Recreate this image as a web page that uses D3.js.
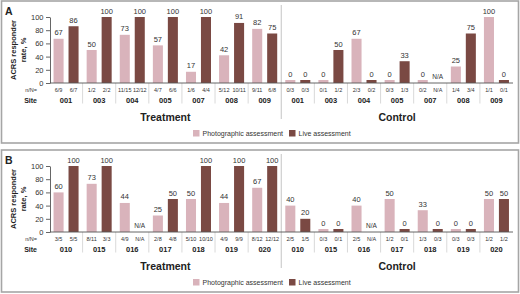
<!DOCTYPE html>
<html>
<head>
<meta charset="utf-8">
<script src="https://cdn.jsdelivr.net/npm/d3@7"></script>
<style>
  body { margin: 0; background: #fff; }
  svg { display: block; font-family: "Liberation Sans", Arial, sans-serif; }
</style>
</head>
<body>
<div id="chart"></div>
<script>
// arms and series
var arms = ["Treatment", "Control"];
var series = ["Photographic assessment", "Live assessment"];
var yTicks = [0, 20, 40, 60, 80, 100];

// panel A  (treatment sites then control sites; null = N/A)
var sitesA = ["001", "003", "004", "005", "007", "008", "009"];
var photoA = [67, 50, 73, 57, 17, 42, 82, 0, 0, 67, 0, 0, 25, 100];
var liveA = [86, 100, 100, 100, 100, 91, 75, 0, 50, 0, 33, null, 75, 0];
var photoNA = ["6/9", "1/2", "11/15", "4/7", "1/6", "5/12", "9/11", "0/3", "0/1", "2/3", "0/3", "0/2", "1/4", "1/1"];
var liveNA = ["6/7", "2/2", "12/12", "6/6", "4/4", "10/11", "6/8", "0/3", "1/2", "0/2", "1/3", "N/A", "3/4", "0/1"];

// panel B
var sitesB = ["010", "015", "016", "017", "018", "019", "020"];
var photoB = [60, 73, 44, 25, 50, 44, 67, 40, 0, 40, 50, 33, 0, 50];
var liveB = [100, 100, null, 50, 100, 100, 100, 20, 0, null, 0, 0, 0, 50];
var photoNB = ["3/5", "8/11", "4/9", "2/8", "5/10", "4/9", "8/12", "2/5", "0/3", "2/5", "1/2", "1/3", "0/3", "1/2"];
var liveNB = ["5/5", "3/3", "N/A", "4/8", "10/10", "9/9", "12/12", "1/5", "0/1", "N/A", "0/1", "0/3", "0/3", "1/2"];

var colors = { photo: "#d9b3bb", live: "#7a4943" };

var svg = d3.select("#chart").append("svg")
    .attr("width", 520)
    .attr("height", 294);

function drawPanel(offsetY, letter, sites, photo, live, photoN, liveN) {
    var g = svg.append("g").attr("transform", "translate(0," + offsetY + ")");

    // panel frame
    g.append("rect")
        .attr("x", 1.5).attr("y", 1)
        .attr("width", 517).attr("height", 142)
        .attr("fill", "none")
        .attr("stroke", "#a6a6a6")
        .attr("stroke-width", 1.6);

    g.append("text")
        .attr("x", 5).attr("y", 15)
        .style("font-size", "10.5px").style("font-weight", "bold")
        .attr("fill", "#222")
        .text(letter);

    // one entry per group
    var groups = [];
    arms.forEach(function(arm, a) {
        sites.forEach(function(s, i) {
            var k = a * sites.length + i;
            groups.push({ key: arm + "-" + s, arm: arm, site: s,
                photo: photo[k], live: live[k], photoN: photoN[k], liveN: liveN[k] });
        });
    });

    var x = d3.scaleBand()
        .domain(groups.map(function(d) { return d.key; }))
        .range([49.5, 513]);

    var xs = d3.scaleBand()
        .domain(["photo", "live"])
        .range([0, x.bandwidth()])
        .paddingInner(0.33)
        .paddingOuter(0.27);

    var y = d3.scaleLinear()
        .domain([0, 100])
        .range([83, 17]);

    // separators between sites
    g.selectAll(".sep")
        .data(groups.slice(1).filter(function(d, i) { return i !== sites.length - 1; }))
        .enter().append("line")
        .attr("class", "sep")
        .attr("x1", function(d) { return x(d.key); })
        .attr("x2", function(d) { return x(d.key); })
        .attr("y1", 83).attr("y2", 103.5)
        .attr("stroke", "#cfcfcf").attr("stroke-width", 0.8);

    // treatment / control divider
    var divX = x(groups[sites.length].key);
    g.append("line")
        .attr("x1", divX).attr("x2", divX)
        .attr("y1", 5).attr("y2", 119)
        .attr("stroke", "#bdbdbd").attr("stroke-width", 0.9);

    // bars
    var barData = [];
    groups.forEach(function(d) {
        barData.push({ g: d, s: "photo", v: d.photo, n: d.photoN });
        barData.push({ g: d, s: "live", v: d.live, n: d.liveN });
    });

    g.selectAll(".bar")
        .data(barData.filter(function(d) { return d.v !== null; }))
        .enter().append("rect")
        .attr("class", "bar")
        .attr("x", function(d) { return x(d.g.key) + xs(d.s); })
        .attr("width", xs.bandwidth())
        .attr("y", function(d) { return Math.min(y(d.v), y(0) - 3); })
        .attr("height", function(d) { return Math.max(y(0) - y(d.v), 3); })
        .attr("fill", function(d) { return colors[d.s]; });

    // value labels
    g.selectAll(".val")
        .data(barData)
        .enter().append("text")
        .attr("class", "val")
        .attr("x", function(d) { return x(d.g.key) + xs(d.s) + xs.bandwidth() / 2; })
        .attr("y", function(d) {
            if (d.v === null) return y(0) - 4;
            return Math.min(y(d.v), y(0) - 3) - 3.5;
        })
        .attr("text-anchor", "middle")
        .style("font-size", function(d) { return d.v === null ? "6.5px" : "7.5px"; })
        .attr("fill", "#333")
        .text(function(d) { return d.v === null ? "N/A" : d.v; });

    // baseline
    g.append("line")
        .attr("x1", 50).attr("x2", 513)
        .attr("y1", 83).attr("y2", 83)
        .attr("stroke", "#555").attr("stroke-width", 0.9);

    // y axis
    var yAxis = d3.axisLeft(y)
        .tickValues(yTicks)
        .tickSize(4)
        .tickSizeOuter(0)
        .tickPadding(2.5);

    var ya = g.append("g")
        .attr("transform", "translate(50,0)")
        .call(yAxis);
    ya.select(".domain").attr("stroke", "#555").attr("stroke-width", 0.9);
    ya.selectAll(".tick line").attr("stroke", "#555").attr("stroke-width", 0.9);
    ya.selectAll(".tick text")
        .attr("fill", "#333")
        .style("font-size", "7.5px")
        .style("font-family", "Liberation Sans, Arial, sans-serif");

    // y title
    g.append("text")
        .attr("transform", "translate(15.5,50) rotate(-90)")
        .attr("text-anchor", "middle")
        .style("font-size", "7.5px").style("font-weight", "bold")
        .attr("fill", "#222")
        .text("ACRS responder");
    g.append("text")
        .attr("transform", "translate(25.5,50) rotate(-90)")
        .attr("text-anchor", "middle")
        .style("font-size", "7.5px").style("font-weight", "bold")
        .attr("fill", "#222")
        .text("rate, %");

    // n/N row
    g.append("text")
        .attr("x", 37).attr("y", 92)
        .attr("text-anchor", "end")
        .style("font-size", "5.5px")
        .attr("fill", "#333")
        .text("n/N=");
    g.selectAll(".nn")
        .data(barData)
        .enter().append("text")
        .attr("class", "nn")
        .attr("x", function(d) { return x(d.g.key) + xs(d.s) + xs.bandwidth() / 2; })
        .attr("y", 92)
        .attr("text-anchor", "middle")
        .style("font-size", "5.5px")
        .attr("fill", "#333")
        .text(function(d) { return d.n; });

    // site row
    g.append("text")
        .attr("x", 37).attr("y", 102.5)
        .attr("text-anchor", "end")
        .style("font-size", "7px").style("font-weight", "bold")
        .attr("fill", "#222")
        .text("Site");
    g.selectAll(".site")
        .data(groups)
        .enter().append("text")
        .attr("class", "site")
        .attr("x", function(d) { return x(d.key) + x.bandwidth() / 2; })
        .attr("y", 102.5)
        .attr("text-anchor", "middle")
        .style("font-size", "7.5px").style("font-weight", "bold")
        .attr("fill", "#222")
        .text(function(d) { return d.site; });

    // arm labels
    arms.forEach(function(arm, a) {
        var first = x(groups[a * sites.length].key);
        var last = x(groups[(a + 1) * sites.length - 1].key) + x.bandwidth();
        g.append("text")
            .attr("x", (first + last) / 2)
            .attr("y", 121)
            .attr("text-anchor", "middle")
            .style("font-size", "10.5px").style("font-weight", "bold")
            .attr("fill", "#222")
            .text(arm);
    });

    // legend
    var legX = [193, 289];
    ["photo", "live"].forEach(function(s, i) {
        g.append("rect")
            .attr("x", legX[i]).attr("y", 130)
            .attr("width", 6.5).attr("height", 6.5)
            .attr("fill", colors[s]);
        g.append("text")
            .attr("x", legX[i] + 9.5).attr("y", 136)
            .style("font-size", "7px")
            .attr("fill", "#333")
            .text(series[i]);
    });
}

drawPanel(0, "A", sitesA, photoA, liveA, photoNA, liveNA);
drawPanel(149, "B", sitesB, photoB, liveB, photoNB, liveNB);
</script>
</body>
</html>
